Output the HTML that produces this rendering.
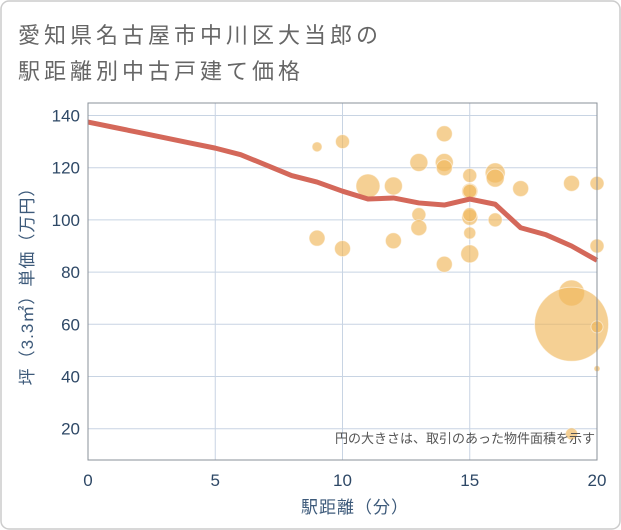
<!DOCTYPE html>
<html><head><meta charset="utf-8">
<style>
body{margin:0;background:#fff;}
svg{display:block;font-family:"Liberation Sans","Noto Sans CJK JP",sans-serif;}
</style></head>
<body>
<svg id="chart" width="621" height="530" viewBox="0 0 621 530">
<rect x="1" y="1" width="619" height="528" rx="8" fill="#fff" stroke="#ccc" stroke-width="1.5"/>
<text x="18" y="43" font-size="22" letter-spacing="4" fill="#666">愛知県名古屋市中川区大当郎の</text>
<text x="18" y="79" font-size="22" letter-spacing="4" fill="#666">駅距離別中古戸建て価格</text>
<g id="grid"></g>
<g id="bubbles"></g>
<g id="trend"></g>
<g id="axes"></g>
<text x="595" y="443" font-size="13" fill="#555" text-anchor="end">円の大きさは、取引のあった物件面積を示す</text>
<text x="355" y="513" font-size="17" letter-spacing="1" fill="#3d5a7a" text-anchor="middle">駅距離（分）</text>
<text transform="translate(33,282) rotate(-90)" font-size="17" letter-spacing="1" fill="#3d5a7a" text-anchor="middle">坪（3.3㎡）単価（万円）</text>
</svg>
<script>
const xTicks=[0,5,10,15,20];
const yTicks=[20,40,60,80,100,120,140];
const bubbleX=[9,10,13,14,14,14,11,12,15,15,15,16,16,17,19,20,13,13,15,15,15,16,9,10,12,14,15,20,19,19,20,20,19];
const bubbleY=[128,130,122,133,122,120,113,113,117,111,111,118,116,112,114,114,102,97,101,102,95,100,93,89,92,83,87,90,72,60,59,43,18];
const bubbleR=[5,7,9,8,9,8,12,9,7,8,7,10,9,8,8,7,7,8,8,7,6,7,8,8,8,8,9,7,13,37,6,3,6];
const lineX=[0,1,2,3,4,5,6,7,8,9,10,11,12,13,14,15,16,17,18,19,20];
const lineY=[137.5,135.5,133.5,131.5,129.5,127.5,125,121,117,114.5,111,108,108.4,106.5,105.7,108,106,97,94.3,90,84.5];
const L=88,R=597,T=103,B=460;
const xs=v=>L+(R-L)*v/20;
const ys=v=>115.5+(140-v)*2.61;
const NS="http://www.w3.org/2000/svg";
function mk(t,a,p){const e=document.createElementNS(NS,t);for(const k in a)e.setAttribute(k,a[k]);p.appendChild(e);return e;}
const grid=document.getElementById('grid');
yTicks.forEach(v=>{const l=mk('line',{x1:L,x2:R,y1:ys(v),y2:ys(v),stroke:'#c8d4e3','stroke-width':1},grid);

});
xTicks.forEach(v=>{const l=mk('line',{x1:xs(v),x2:xs(v),y1:T,y2:B,stroke:'#c8d4e3','stroke-width':1},grid);

});
const bg=document.getElementById('bubbles');
bubbleX.forEach((x,i)=>{const c=mk('circle',{cx:xs(x),cy:ys(bubbleY[i]),r:bubbleR[i],fill:'#f0b75a','fill-opacity':0.65,stroke:'#fff','stroke-opacity':0.5,'stroke-width':1},bg);

});
const tg=document.getElementById('trend');
const p=mk('polyline',{points:lineX.map((x,i)=>xs(x)+','+ys(lineY[i])).join(' '),fill:'none',stroke:'#d4685a','stroke-width':5,'stroke-linejoin':'round'},tg);


const ax=document.getElementById('axes');
const f=mk('rect',{x:L,y:T,width:R-L,height:B-T,fill:'none',stroke:'#8a9099','stroke-width':1},ax);


yTicks.forEach(v=>{const t=mk('text',{x:80,y:ys(v)+6,'font-size':17,fill:'#2e4866','text-anchor':'end'},ax);t.textContent=v;

});
xTicks.forEach(v=>{const t=mk('text',{x:xs(v),y:486,'font-size':17,fill:'#2e4866','text-anchor':'middle'},ax);t.textContent=v;

});
</script>
</body></html>
